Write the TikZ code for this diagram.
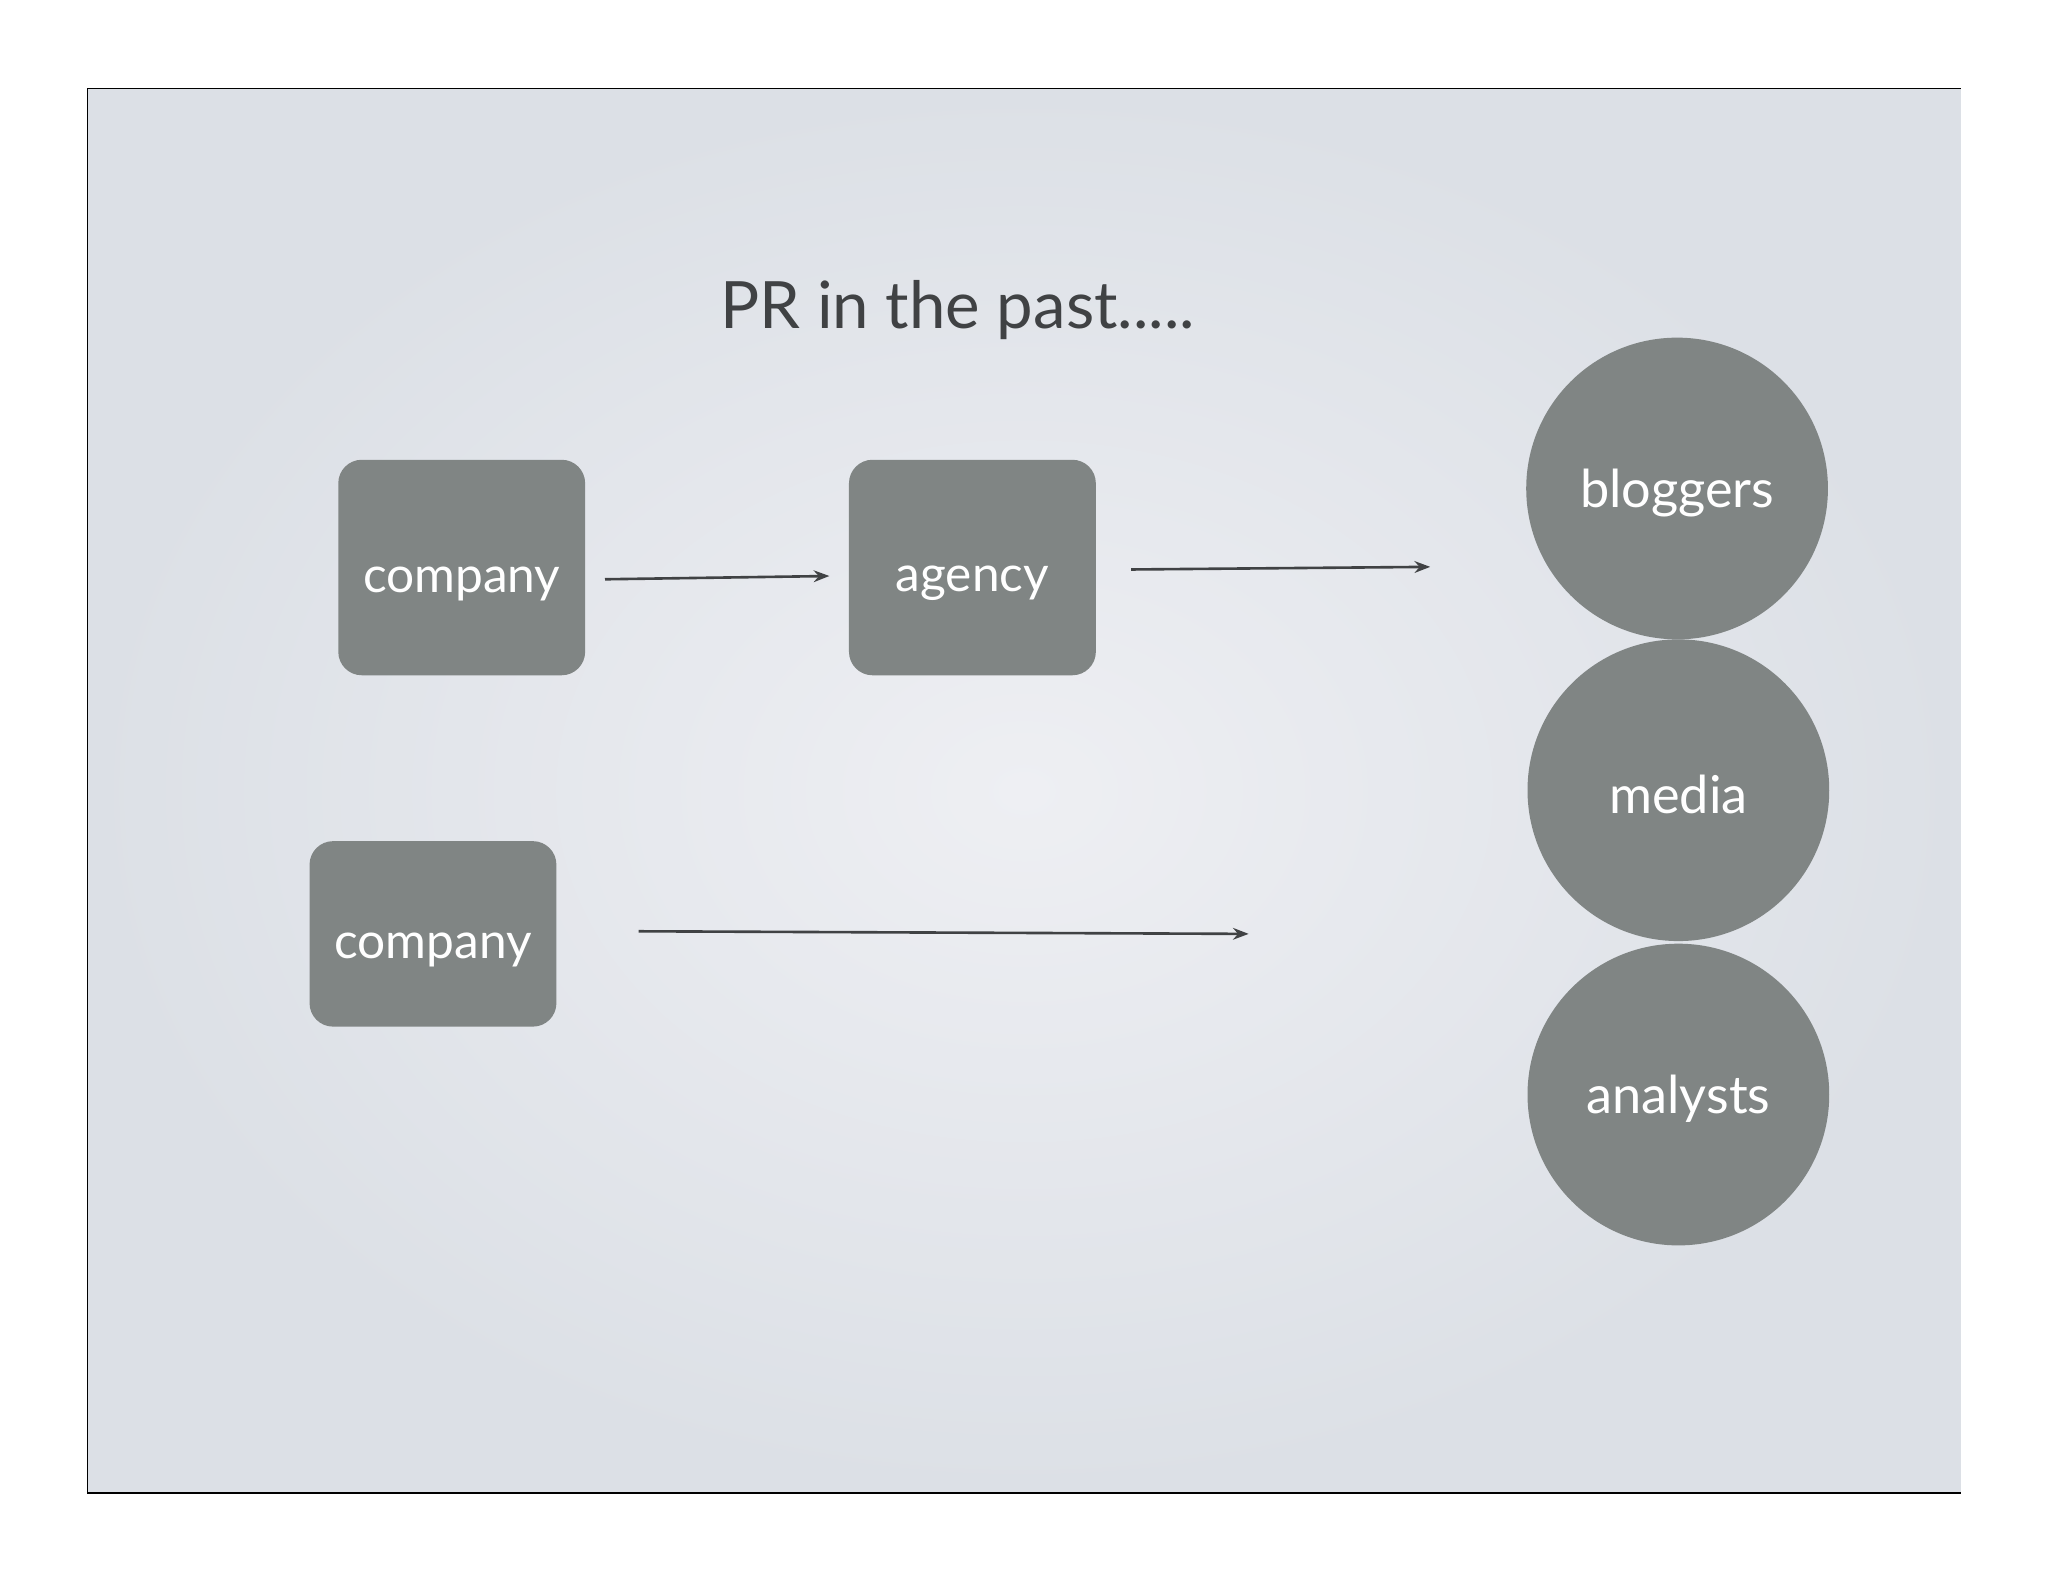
\documentclass[tikz,border=0pt]{standalone}
\usepackage{fontspec}
\setmainfont{Lato}
\usetikzlibrary{arrows.meta}
\definecolor{boxg}{HTML}{808584}
\definecolor{bgc}{HTML}{EEEFF3}
\definecolor{bge}{HTML}{DCE0E6}
\definecolor{txt}{HTML}{404244}
\tikzset{
  rbox/.style={fill=boxg,rounded corners=18pt,minimum width=189pt,text=white,text height=44pt,font=\fontsize{38}{40}\selectfont},
  circ/.style={circle,fill=boxg,minimum size=231pt,inner sep=0pt,text=white,text height=36pt,font=\fontsize{40}{42}\selectfont},
  arr/.style={draw=txt,line width=2pt,-{Stealth[length=12pt,width=9pt]}}
}
\begin{document}
\begin{tikzpicture}[x=1pt,y=-1pt]
\useasboundingbox (0,0) rectangle (1568,1211);
\fill[white] (0,0) rectangle (1568,1211);
\shade[inner color=bgc,outer color=bge] (67,68) rectangle (1501,1143);
\draw[black,line width=1pt] (1501,68) -- (67,68) -- (67,1143) -- (1501,1143);
\node[text=txt,font=\fontsize{50}{52}\selectfont] (title) at (733,237) {PR in the past.....};
\node[rbox,minimum height=165pt] (c1) at (353.5,434.5) {company};
\node[rbox,minimum height=165pt] (ag) at (744.5,434.5) {agency};
\node[rbox,minimum height=142pt] (c2) at (331.5,715) {company};
\node[circ] (bl) at (1284,374) {bloggers};
\node[circ] (me) at (1285,605) {media};
\node[circ] (an) at (1285,838) {analysts};
\coordinate (e1) at (635,441);
\coordinate (s2) at (866,436);
\coordinate (e2) at (1095,434);
\coordinate (s3) at (489,713);
\coordinate (e3) at (956,715);
\draw[arr] ([xshift=15pt,yshift=-9pt]c1.east) -- (e1);
\draw[arr] (s2) -- (e2);
\draw[arr] (s3) -- (e3);
\end{tikzpicture}
\end{document}
